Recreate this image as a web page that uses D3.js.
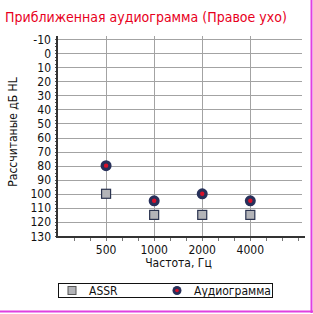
<!DOCTYPE html>
<html>
<head>
<meta charset="utf-8">
<script src="https://cdn.jsdelivr.net/npm/d3@7"></script>
<style>
  body { margin: 0; background: #fff; }
  svg { display: block; font-family: "DejaVu Sans Condensed", "DejaVu Sans", sans-serif; font-stretch: condensed; }
</style>
</head>
<body>
<svg></svg>
<script>
const freqs = [500, 1000, 2000, 4000];
const freqLabels = ["500", "1000", "2000", "4000"];
const assr = [100, 115, 115, 115];
const audiogram = [80, 105, 100, 105];
const yTicks = [-10, 0, 10, 20, 30, 40, 50, 60, 70, 80, 90, 100, 110, 120, 130];

const width = 313, height = 314;
const svg = d3.select("svg").attr("width", width).attr("height", height);

const x = d3.scaleLog().base(2).domain([250, 8800]).range([58, 305]);
const y = d3.scaleLinear().domain([-10, 130]).range([39, 236]);

// title
svg.append("text")
    .attr("x", 5).attr("y", 22)
    .attr("fill", "#e8001c")
    .style("font-size", "14px")
    .text("Приближенная аудиограмма (Правое ухо)");

// grid
const grid = svg.append("g").attr("stroke", "#a3a3a3").attr("stroke-width", 1);
grid.selectAll("line.h")
    .data(yTicks)
    .enter().append("line")
    .attr("x1", 58).attr("x2", 302)
    .attr("y1", d => Math.round(y(d)) + 0.5).attr("y2", d => Math.round(y(d)) + 0.5);
grid.selectAll("line.v")
    .data(freqs)
    .enter().append("line")
    .attr("x1", d => Math.round(x(d)) + 0.5).attr("x2", d => Math.round(x(d)) + 0.5)
    .attr("y1", 36).attr("y2", 237);

// y minor ticks
const yMinor = d3.range(-10, 130.1, 2.5);
svg.append("g").selectAll("line")
    .data(yMinor)
    .enter().append("line")
    .attr("x1", 55).attr("x2", 58)
    .attr("y1", d => Math.round(y(d)) + 0.5).attr("y2", d => Math.round(y(d)) + 0.5)
    .attr("stroke", "#555");

// x minor ticks (third octaves)
const xMinor = d3.range(-3, 14).map(k => 500 * Math.pow(2, k / 3)).filter(f => x(f) > 60 && x(f) < 303);
svg.append("g").selectAll("line")
    .data(xMinor)
    .enter().append("line")
    .attr("x1", d => Math.round(x(d)) + 0.5).attr("x2", d => Math.round(x(d)) + 0.5)
    .attr("y1", 237).attr("y2", 241)
    .attr("stroke", "#777");

// axes lines
svg.append("line").attr("x1", 57).attr("x2", 57).attr("y1", 36).attr("y2", 238)
    .attr("stroke", "#333").attr("stroke-width", 2);
svg.append("line").attr("x1", 56).attr("x2", 305).attr("y1", 237).attr("y2", 237)
    .attr("stroke", "#333").attr("stroke-width", 2);

// y labels
svg.append("g").selectAll("text")
    .data(yTicks)
    .enter().append("text")
    .attr("x", 51).attr("y", d => y(d) + 4.5)
    .attr("text-anchor", "end")
    .style("font-size", "12px")
    .attr("fill", "#111")
    .text(d => d);

// x labels
svg.append("g").selectAll("text")
    .data(freqs)
    .enter().append("text")
    .attr("x", d => x(d)).attr("y", 254)
    .attr("text-anchor", "middle")
    .style("font-size", "12px")
    .attr("fill", "#111")
    .text((d, i) => freqLabels[i]);

// axis titles
svg.append("text")
    .attr("transform", "translate(17,132) rotate(-90)")
    .attr("text-anchor", "middle")
    .style("font-size", "12px")
    .attr("fill", "#111")
    .text("Рассчитаные дБ HL");
svg.append("text")
    .attr("x", 178.5).attr("y", 267)
    .attr("text-anchor", "middle")
    .style("font-size", "12px")
    .attr("fill", "#111")
    .text("Частота, Гц");

// ASSR markers
svg.append("g").selectAll("rect")
    .data(freqs)
    .enter().append("rect")
    .attr("x", d => x(d) - 4.5).attr("y", (d, i) => y(assr[i]) - 4.5)
    .attr("width", 9).attr("height", 9)
    .attr("fill", "#b3b4b8").attr("stroke", "#2b3450").attr("stroke-width", 1.2);

// audiogram markers
const aud = svg.append("g").selectAll("g")
    .data(freqs)
    .enter().append("g")
    .attr("transform", (d, i) => `translate(${x(d)},${y(audiogram[i])})`);
aud.append("circle").attr("r", 5.5).attr("fill", "#27305a");
aud.append("circle").attr("r", 2.2).attr("fill", "#d8102a");

// legend
svg.append("rect").attr("x", 58.5).attr("y", 283.5).attr("width", 214).attr("height", 14)
    .attr("fill", "#fff").attr("stroke", "#111").attr("stroke-width", 1);
svg.append("rect").attr("x", 68).attr("y", 286.5).attr("width", 8).attr("height", 8)
    .attr("fill", "#b3b4b8").attr("stroke", "#555").attr("stroke-width", 1);
svg.append("text").attr("x", 89).attr("y", 295).style("font-size", "12px").attr("fill", "#111").text("ASSR");
svg.append("circle").attr("cx", 177).attr("cy", 290.5).attr("r", 4.5).attr("fill", "#27305a");
svg.append("circle").attr("cx", 177).attr("cy", 290.5).attr("r", 1.8).attr("fill", "#d8102a");
svg.append("text").attr("x", 194).attr("y", 295).style("font-size", "12px").attr("fill", "#111").text("Аудиограмма");

// frame edges
svg.append("line").attr("x1", 311.5).attr("x2", 311.5).attr("y1", 0).attr("y2", 313)
    .attr("stroke", "#e040e0").attr("stroke-width", 2);
svg.append("line").attr("x1", 0).attr("x2", 313).attr("y1", 311.5).attr("y2", 311.5)
    .attr("stroke", "#e040e0").attr("stroke-width", 2);
</script>
</body>
</html>
